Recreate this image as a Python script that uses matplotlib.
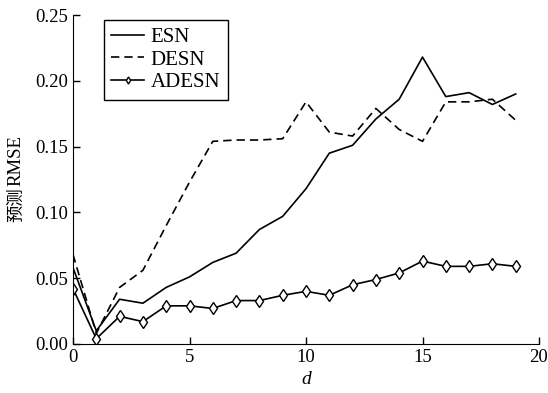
import matplotlib
matplotlib.use("Agg")
import matplotlib.pyplot as plt

d = list(range(20))
esn = [0.058, 0.010, 0.034, 0.031, 0.043, 0.051, 0.062, 0.069, 0.087, 0.097,
       0.118, 0.145, 0.151, 0.171, 0.186, 0.218, 0.188, 0.191, 0.182, 0.190]
desn = [0.068, 0.008, 0.043, 0.056, 0.090, 0.123, 0.154, 0.155, 0.155, 0.156,
        0.184, 0.161, 0.158, 0.179, 0.163, 0.154, 0.184, 0.184, 0.186, 0.170]
adesn = [0.042, 0.004, 0.021, 0.017, 0.029, 0.029, 0.027, 0.033, 0.033, 0.037,
         0.040, 0.037, 0.045, 0.049, 0.054, 0.063, 0.059, 0.059, 0.061, 0.059]
xticks = [0, 5, 10, 15, 20]
yticks = [0.00, 0.05, 0.10, 0.15, 0.20, 0.25]

plt.rcParams['font.family'] = ['Liberation Serif', 'Noto Sans CJK SC']
plt.rcParams['font.size'] = 13

W, H = 548, 393
fig = plt.figure(figsize=(W / 100, H / 100), dpi=100)
ax = fig.add_axes([73 / W, 49 / H, 466 / W, 329 / H])

ax.plot(d, esn, color='black', lw=1.2, label='ESN')
ax.plot(d, desn, color='black', lw=1.2, ls=(0, (5, 3)), label='DESN')
ax.plot(d, adesn, color='black', lw=1.2, marker='d', ms=6, mfc='white',
        mec='black', mew=1.0, label='ADESN')

ax.set_xlim(0, 20)
ax.set_ylim(0, 0.25)
ax.set_xticks(xticks)
ax.set_yticks(yticks)
ax.set_yticklabels([f"{v:.2f}" for v in yticks])
ax.spines['top'].set_visible(False)
ax.spines['right'].set_visible(False)
ax.tick_params(direction='in', length=5, width=1.0, labelsize=13.5)
ax.set_xlabel('d', fontstyle='italic', fontsize=14, labelpad=4)

# y label: CJK part and Latin part as separate texts
y0 = (H - 222) / H
t1 = fig.text(16 / W, y0, '预测', rotation=90, ha='center', va='bottom',
              family='Noto Sans CJK SC', fontsize=12.5)
fig.canvas.draw()
bb = t1.get_window_extent()
t2 = fig.text(16 / W, (bb.y1 + 1) / H, 'RMSE', rotation=90, ha='center',
              va='bottom', family='Liberation Serif', fontsize=13.5)

leg = ax.legend(loc='upper left', bbox_to_anchor=(0.066, 0.985), fancybox=False,
                edgecolor='black', framealpha=1, fontsize=15, handlelength=1.6,
                borderpad=0.35, labelspacing=0.15, handletextpad=0.3,
                markerscale=0.6, borderaxespad=0)
leg.get_frame().set_linewidth(1.0)

fig.savefig('out.png', dpi=100)
